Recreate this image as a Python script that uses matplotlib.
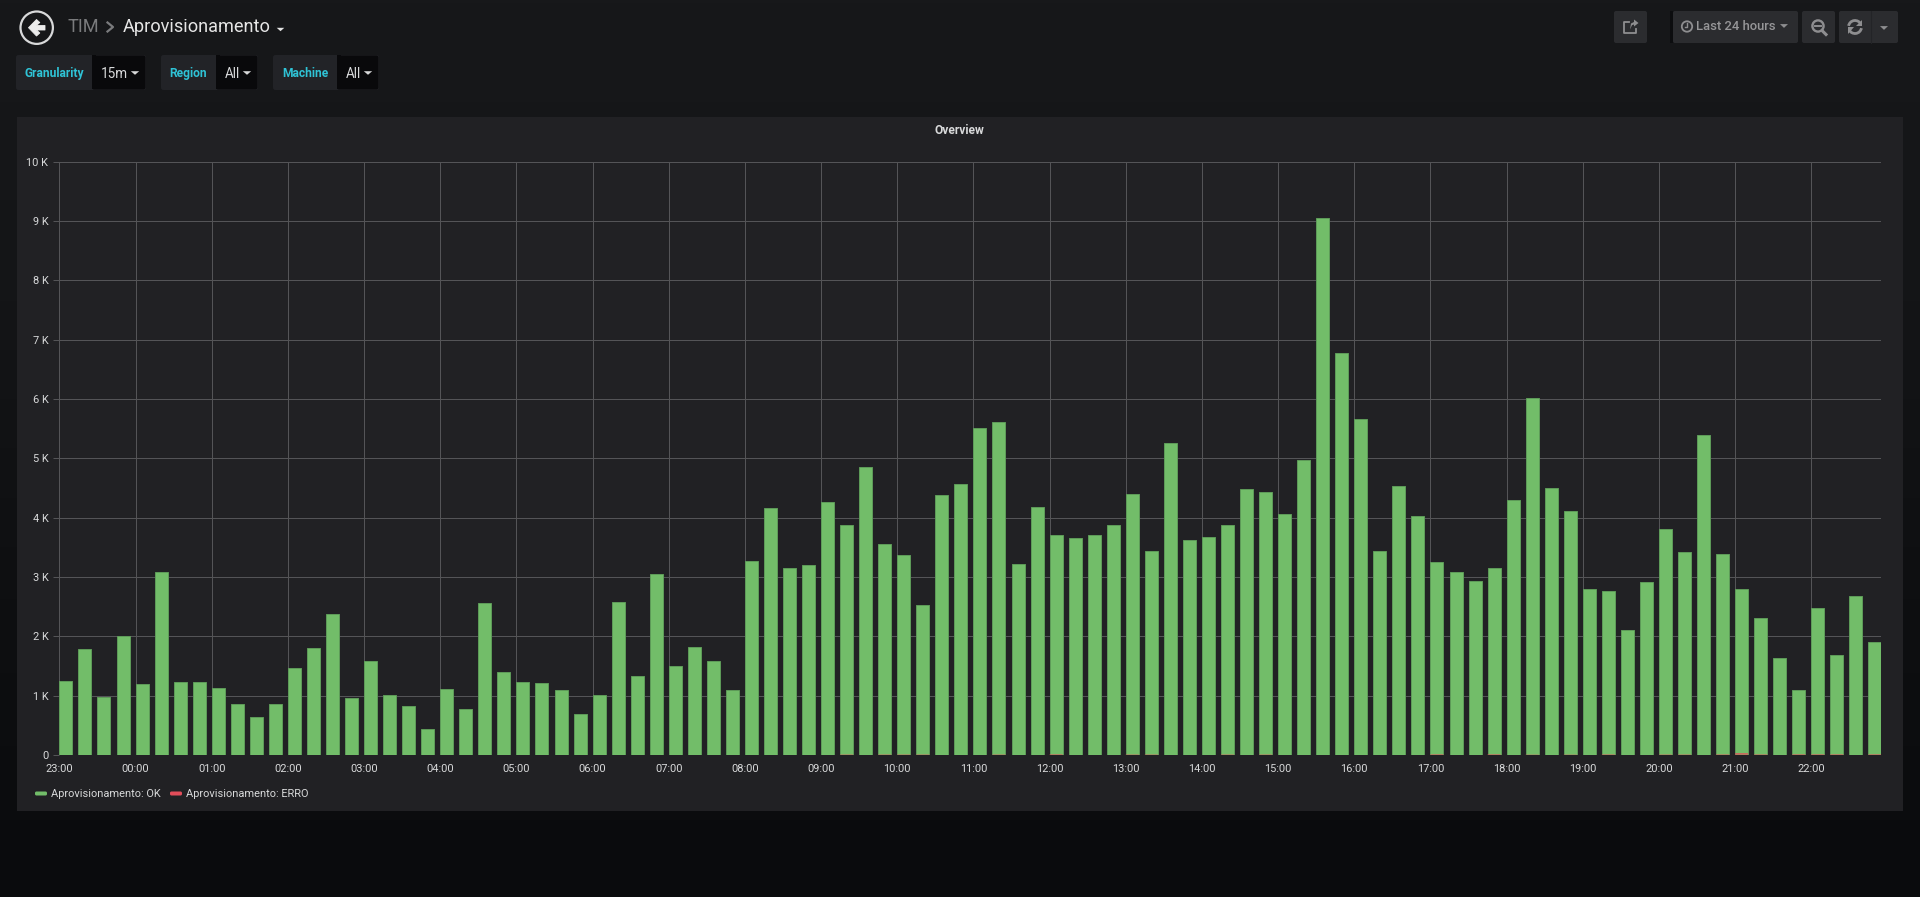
import numpy as np
import matplotlib
matplotlib.use("Agg")
import matplotlib.pyplot as plt
from matplotlib.patches import FancyBboxPatch, Rectangle, Circle, Polygon, Arc
from matplotlib.colors import LinearSegmentedColormap

plt.rcParams['font.family'] = ['Roboto', 'DejaVu Sans']

ok_values = [
    1248, 1787, 967, 2000, 1197, 3080, 1231, 1231, 1130, 860, 641, 849,
    1472, 1804, 2370, 961, 1574, 1012, 815, 438, 1113, 776, 2560, 1399,
    1220, 1203, 1085, 680, 1006, 2570, 1321, 3057, 1495, 1815, 1579, 1096,
    3271, 4164, 3142, 3209, 4266, 3883, 4856, 3563, 3372, 2518, 4389, 4563,
    5508, 5614, 3220, 4181, 3715, 3659, 3709, 3872, 4400, 3439, 5266, 3625,
    3670, 3878, 4485, 4440, 4063, 4979, 9050, 6780, 5665, 3445, 4535, 4030,
    3254, 3085, 2939, 3142, 4299, 6010, 4496, 4114, 2793, 2754, 2102, 2911,
    3816, 3428, 5395, 3389, 2804, 2310, 1635, 1085, 2478, 1680, 2675, 1900,
]
erro_values = [
    0, 0, 0, 0, 0, 0, 0, 0, 0, 0, 0, 0,
    0, 0, 0, 0, 0, 0, 0, 0, 0, 0, 0, 0,
    0, 0, 0, 0, 0, 0, 0, 0, 0, 0, 0, 0,
    0, 0, 0, 0, 0, 8, 0, 8, 8, 8, 0, 0,
    0, 8, 0, 0, 12, 0, 0, 0, 8, 8, 0, 0,
    0, 8, 0, 8, 0, 0, 0, 0, 0, 0, 0, 0,
    12, 0, 0, 12, 0, 6, 0, 6, 0, 10, 0, 0,
    8, 8, 0, 10, 30, 10, 0, 12, 12, 12, 0, 12,
]
hour_labels = ["23:00"] + [f"{h:02d}:00" for h in range(0, 23)]
y_ticks = list(range(0, 11000, 1000))
y_labels = ["0"] + [f"{k} K" for k in range(1, 11)]
legend_names = ["Aprovisionamento: OK", "Aprovisionamento: ERRO"]

W, H = 1920, 897
fig = plt.figure(figsize=(W / 100, H / 100), dpi=100)

GREEN = "#72bd69"
RED = "#e24d5a"
GRID = "#545457"
TEXT = "#d8d9da"


def px(v):
    return v * 0.72


# page background (gradient) and chrome layer, in pixel coordinates
bg = fig.add_axes([0, 0, 1, 1], zorder=0)
bg.axis("off")
cmap = LinearSegmentedColormap.from_list("page", ["#17181a", "#141517", "#0e0f11", "#0a0b0d"])
bg.imshow(np.linspace(0, 1, 256)[:, None], extent=(0, W, H, 0), aspect="auto", cmap=cmap, zorder=0)
bg.set_xlim(0, W)
bg.set_ylim(H, 0)


def box(x0, y0, x1, y1, color, r=2.0, z=1, edge="none"):
    bg.add_patch(FancyBboxPatch((x0 + r, y0 + r), x1 - x0 - 2 * r, y1 - y0 - 2 * r,
                                boxstyle=f"round,pad={r},rounding_size={r}",
                                fc=color, ec=edge, lw=0.8, zorder=z))


def caret(cx, cy, w=4.5, h=3.2, color="#d8d9da", z=4):
    bg.add_patch(Polygon([(cx - w, cy - h / 2), (cx + w, cy - h / 2), (cx, cy + h / 2 + 1)],
                         closed=True, fc=color, ec="none", zorder=z))


def chrome_text(x, y, s, size, color=TEXT, ha="left", weight="normal", va="center"):
    bg.text(x, y, s, fontsize=px(size), color=color, ha=ha, va=va,
            fontweight=weight, zorder=5)


# main panel
bg.add_patch(Rectangle((17, 117), 1886, 694, fc="#212124", ec="none", zorder=1))
chrome_text(959, 131, "Overview", 12, color=TEXT, ha="center", weight="bold")

# back button
bg.add_patch(Circle((36.7, 27.7), 16.2, fc="none", ec="#d8d9da", lw=1.6, zorder=4))
bg.add_patch(Polygon([(28.5, 27.7), (36.5, 19.5), (39.8, 22.5), (36.5, 25.5), (45, 25.5), (45, 30),
                      (36.5, 30), (39.8, 33), (36.5, 36)],
                     closed=True, fc="#ececec", ec="#ececec", lw=0.6, joinstyle="round", zorder=4))

# breadcrumb
chrome_text(67, 27, "TIM", 18.2, color="#7a7b7d")
bg.plot([107.5, 113, 107.5], [22.5, 27, 31.5], color="#7a7b7d", lw=1.6, zorder=4)
chrome_text(123, 27, "Aprovisionamento", 18.2, color="#e6e6e6")
caret(280.5, 29, w=3.8, h=2.4, color="#e3e3e3")

# variable pickers
pickers = [
    (16, 92, 146, "Granularity", "15m"),
    (161, 216, 258, "Region", "All"),
    (273, 337, 379, "Machine", "All"),
]
for x0, xm, x1, label, value in pickers:
    box(x0, 55, x1, 90, "#222327", r=2.5, z=2)
    box(xm, 55.5, x1 - 0.5, 89.5, "#09090b", r=2.0, z=3)
    bg.add_patch(Rectangle((xm, 55.5), 4, 34, fc="#09090b", ec="none", zorder=3))
    chrome_text((x0 + xm) / 2, 77, label, 12, color="#2fc3d6", ha="center", weight="bold", va="baseline")
    chrome_text(xm + 9, 78, value, 13.5, color=TEXT, va="baseline")
    caret(x1 - 11, 72.5, w=4.2, h=2.6, color=TEXT)

# top-right buttons
BTN = "#2b2c2f"
ICON = "#8e8e90"
box(1614, 11, 1647, 43, BTN, r=2)
box(1673, 11, 1798, 43, BTN, r=2)
bg.add_patch(Rectangle((1670, 11), 3, 32, fc="#0c0d0f", ec="none", zorder=1.5))
box(1802, 11, 1835, 43, BTN, r=2)
box(1839, 11, 1898, 43, BTN, r=2)
bg.plot([1871, 1871], [11, 43], color="#232427", lw=0.8, zorder=4)

# share icon
bg.plot([1629, 1624, 1624, 1635.5, 1635.5], [22, 22, 33, 33, 29], color=ICON, lw=1.3, zorder=4)
bg.add_patch(Polygon([(1630, 29.5), (1631, 23.5), (1634, 22), (1634, 19.5), (1638.5, 23), (1634, 26.5),
                      (1634, 24.5), (1632, 25.2)], closed=True, fc=ICON, ec="none", zorder=4))
# clock icon
bg.add_patch(Circle((1687, 26.5), 5.2, fc="none", ec=ICON, lw=1.3, zorder=4))
bg.plot([1687, 1687, 1684.5], [23, 27.3, 27.3], color=ICON, lw=1.0, zorder=4)
chrome_text(1696, 27, "Last 24 hours", 13, color="#969698", weight="medium")
caret(1784, 25.5, w=4, h=2.8, color=ICON)
# zoom-out icon
bg.add_patch(Circle((1818, 26), 5.6, fc="none", ec=ICON, lw=1.7, zorder=4))
bg.plot([1815, 1821], [26, 26], color=ICON, lw=1.4, zorder=4)
bg.plot([1822, 1826], [30.5, 34.5], color=ICON, lw=2.2, zorder=4)
# refresh icon
bg.add_patch(Arc((1855, 27), 13, 13, theta1=190, theta2=335, ec=ICON, lw=2.0, zorder=4))
bg.add_patch(Arc((1855, 27), 13, 13, theta1=10, theta2=155, ec=ICON, lw=2.0, zorder=4))
bg.add_patch(Polygon([(1862, 20), (1862, 26.5), (1856, 26.5)], closed=True, fc=ICON, ec="none", zorder=4))
bg.add_patch(Polygon([(1848, 34), (1848, 27.5), (1854, 27.5)], closed=True, fc=ICON, ec="none", zorder=4))
caret(1884, 27.5, w=4, h=2.8, color=ICON)

# chart axes
AX_L, AX_R, AX_T, AX_B = 59.4, 1881.0, 161.8, 754.8
ax = fig.add_axes([AX_L / W, 1 - AX_B / H, (AX_R - AX_L) / W, (AX_B - AX_T) / H], zorder=2)
ax.patch.set_alpha(0)
HOUR_PX = 76.17
xs = np.arange(len(ok_values)) * 0.25
bar_w = 13 / HOUR_PX

ax.bar(xs, ok_values, width=bar_w, align="edge", color=GREEN, edgecolor="#5e9c59", linewidth=0.7, zorder=3)
for rect in ax.bar(xs, erro_values, width=bar_w, align="edge", color=RED, edgecolor="none", alpha=0.75, zorder=4):
    rect.set_snap(False)

ax.set_xlim(0, (AX_R - AX_L) / HOUR_PX)
ax.set_ylim(0, 10000)
ax.set_xticks(np.arange(len(hour_labels)))
ax.set_xticklabels(hour_labels)
ax.set_yticks(y_ticks)
ax.set_yticklabels(y_labels)
ax.grid(True, color=GRID, linewidth=px(1.0), zorder=1)
ax.set_axisbelow(True)
ax.tick_params(axis="x", length=0, pad=px(9), labelsize=px(11), labelcolor=TEXT)
ax.tick_params(axis="y", length=px(6), width=px(1.0), color=GRID, pad=px(5), labelsize=px(11), labelcolor=TEXT)
for s in ax.spines.values():
    s.set_visible(False)

# legend
for (x0, tx), name, col in zip([(35, 51), (170, 186)], legend_names, [GREEN, RED]):
    box(x0, 791.5, x0 + 12, 795.5, col, r=1.5, z=3)
    chrome_text(tx, 794, name, 11, color=TEXT)

fig.savefig("out.png", dpi=100, facecolor="#141518")
